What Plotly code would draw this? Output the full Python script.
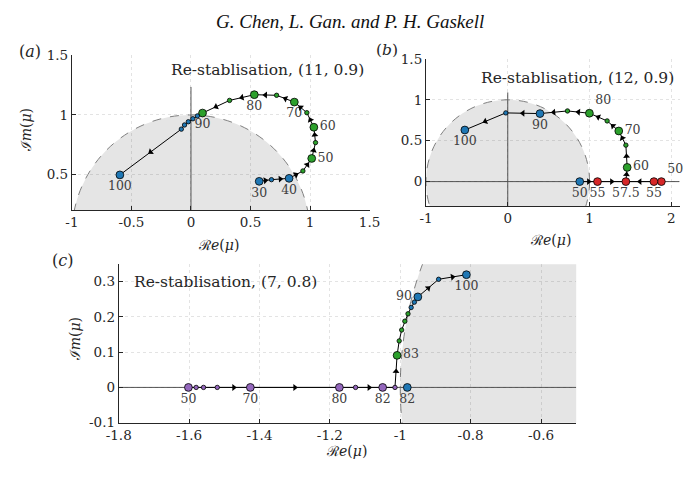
import numpy as np
import plotly.graph_objects as go

# ---------------- data ----------------
# (a) Re-stablisation, (11, 0.9)
a_re = [0.573, 0.676, 0.824, 0.940, 1.014, 1.046, 1.032, 0.973, 0.868, 0.719,
        0.532, 0.324, 0.097, 0.054, 0.016, -0.022, -0.054, -0.081, -0.597]
a_im = [0.443, 0.457, 0.468, 0.530, 0.635, 0.768, 0.897, 1.019, 1.108, 1.165,
        1.170, 1.122, 1.016, 0.992, 0.968, 0.943, 0.916, 0.881, 0.497]
a_branch = ['blue', 'blue', 'blue', 'green', 'green', 'green', 'green', 'green', 'green', 'green',
            'green', 'green', 'green', 'blue', 'blue', 'blue', 'blue', 'blue', 'blue']
a_label = ['30', '', '40', '', '50', '', '60', '', '70', '',
           '80', '', '90', '', '', '', '', '', '100']

# (b) Re-stablisation, (12, 0.9)
b1_re = [0.880, 1.097, 1.444]
b1_im = [0.0, 0.0, 0.0]
b1_branch = ['blue', 'red', 'red']
b1_label = ['50', '55', '']

b2_re = [1.878, 1.787, 1.444]
b2_im = [0.0, 0.0, 0.0]
b2_branch = ['red', 'red', 'red']
b2_label = ['50', '55', '']

b3_re = [1.444, 1.460, 1.444, 1.357, 1.215, 0.998, 0.730, 0.394, -0.024, -0.525]
b3_im = [0.0, 0.174, 0.446, 0.619, 0.742, 0.836, 0.864, 0.832, 0.840, 0.631]
b3_branch = ['red', 'green', 'green', 'green', 'green', 'green', 'green', 'blue', 'blue', 'blue']
b3_label = ['57.5', '60', '', '70', '', '80', '', '90', '', '100']

# (c) Re-stablisation, (7, 0.8)
c1_re = [-1.602, -1.580, -1.559, -1.520, -1.426, -1.173, -1.127, -1.050, -1.015,
         -1.009, -1.003, -0.996, -0.987, -0.978, -0.969, -0.960, -0.950, -0.891, -0.812]
c1_im = [0.0, 0.0, 0.0, 0.0, 0.0, 0.0, 0.0, 0.0, 0.0,
         0.091, 0.132, 0.163, 0.188, 0.209, 0.227, 0.242, 0.257, 0.307, 0.320]
c1_branch = ['purple'] * 9 + ['green'] * 5 + ['blue'] * 5
c1_label = ['50', '', '', '', '70', '80', '', '82', '',
            '83', '', '', '', '', '', '', '90', '', '100']

c2_re = [-0.980]
c2_im = [0.0]
c2_branch = ['blue']
c2_label = ['82']

x_ticks_a = [-1, -0.5, 0, 0.5, 1, 1.5]
y_ticks_a = [0.5, 1, 1.5]
x_ticks_b = [-1, 0, 1, 2]
y_ticks_b = [0, 0.5, 1, 1.5]
x_ticks_c = [-1.8, -1.6, -1.4, -1.2, -1.0, -0.8, -0.6]
y_ticks_c = [-0.1, 0, 0.1, 0.2, 0.3]

# ---------------- style ----------------
COL = {'blue': '#1f77b4', 'green': '#2ca02c', 'red': '#d62728', 'purple': '#9467bd'}
SERIF = 'DejaVu Serif, Liberation Serif, serif'
TIMES = 'Liberation Serif, Times New Roman, serif'
W, H = 697, 478

fig = go.Figure()


def tp(labels, special):
    return [special.get(i, 'bottom center') for i in range(len(labels))]


def add_path(re, im, branch, labels, textpos, xa, ya, line=True):
    fig.add_trace(go.Scatter(
        x=re, y=im, xaxis=xa, yaxis=ya,
        mode=('lines+' if line else '') + 'markers+text',
        line=dict(color='black', width=1),
        marker=dict(color=[COL[b] for b in branch], opacity=1,
                    size=[7.8 if l else 4.4 for l in labels],
                    line=dict(color='black', width=0.8)),
        text=labels, textposition=textpos,
        textfont=dict(family=SERIF, size=12.5, color='#404040'),
        showlegend=False, hoverinfo='skip', cliponaxis=False))


def add_arrows(re, im, xa, ya, px_per_unit, min_px):
    re = np.asarray(re, float)
    im = np.asarray(im, float)
    dx, dy = np.diff(re), np.diff(im)
    keep = np.hypot(dx, dy) * px_per_unit > min_px
    mx = (re[:-1] + re[1:]) / 2
    my = (im[:-1] + im[1:]) / 2
    ang = np.degrees(np.arctan2(dx, dy))
    fig.add_trace(go.Scatter(
        x=mx[keep], y=my[keep], xaxis=xa, yaxis=ya, mode='markers',
        marker=dict(symbol='triangle-up', size=6, color='black', angle=ang[keep],
                    opacity=1, line=dict(width=0)),
        showlegend=False, hoverinfo='skip'))


# panel (a)
add_path(a_re, a_im, a_branch, a_label, tp(a_label, {4: 'middle right', 6: 'middle right'}), 'x', 'y')
add_arrows(a_re, a_im, 'x', 'y', 123.3, 10)

# panel (b)
add_path(b1_re, b1_im, b1_branch, b1_label, tp(b1_label, {}), 'x2', 'y2')
add_path(b2_re, b2_im, b2_branch, b2_label, tp(b2_label, {0: 'top right'}), 'x2', 'y2')
add_path(b3_re, b3_im, b3_branch, b3_label,
         tp(b3_label, {1: 'middle right', 3: 'middle right', 5: 'top right'}), 'x2', 'y2')
for r, i in ((b1_re, b1_im), (b2_re, b2_im), (b3_re, b3_im)):
    add_arrows(r, i, 'x2', 'y2', 84.7, 10)

# panel (c)
add_path(c1_re, c1_im, c1_branch, c1_label, tp(c1_label, {9: 'middle right', 16: 'middle left'}), 'x3', 'y3')
add_path(c2_re, c2_im, c2_branch, c2_label, tp(c2_label, {}), 'x3', 'y3', line=False)
add_arrows(c1_re, c1_im, 'x3', 'y3', 364.4, 18)


# ---------------- axes ----------------
def ax(domain, rng, ticks, anchor):
    return dict(domain=domain, range=rng, anchor=anchor,
                tickvals=ticks, ticktext=['%g' % t for t in ticks],
                showline=True, linecolor='#262626', linewidth=1,
                ticks='inside', ticklen=4, tickcolor='#262626', tickwidth=1,
                showgrid=True, gridcolor='rgba(38,38,38,0.13)', griddash='dot', gridwidth=1,
                zeroline=False, mirror=False,
                tickfont=dict(family=SERIF, size=13.5, color='#262626'))


fig.update_layout(
    xaxis=ax([61 / W, 369.3 / W], [-1, 1.5], x_ticks_a, 'y'),
    yaxis=ax([1 - 209.3 / H, 1 - 49 / H], [0.2, 1.5], y_ticks_a, 'x'),
    xaxis2=ax([427.7 / W, 690.3 / W], [-1, 2.1], x_ticks_b, 'y2'),
    yaxis2=ax([1 - 205 / H, 1 - 52.7 / H], [-0.3, 1.5], y_ticks_b, 'x2'),
    xaxis3=ax([109.5 / W, 583.3 / W], [-1.8, -0.5], x_ticks_c, 'y3'),
    yaxis3=ax([1 - 429 / H, 1 - 265 / H], [-0.1, 0.35], y_ticks_c, 'x3'),
)

# ---------------- shapes: unit disc and reference lines ----------------
shapes = []
for xa, ya in (('x', 'y'), ('x2', 'y2'), ('x3', 'y3')):
    shapes.append(dict(type='circle', xref=xa, yref=ya, x0=-1, x1=1, y0=-1, y1=1,
                       fillcolor='#e5e5e5', line=dict(color='#7f7f7f', width=1, dash='dash'),
                       layer='below'))
ref = dict(color='#555555', width=1)
shapes += [
    dict(type='line', xref='x', yref='y', x0=0, x1=0, y0=0.2, y1=1.235, line=ref, layer='below'),
    dict(type='line', xref='x2', yref='y2', x0=0, x1=0, y0=-0.3, y1=1.09, line=ref, layer='below'),
    dict(type='line', xref='x2', yref='y2', x0=-1, x1=2.1, y0=0, y1=0, line=ref, layer='below'),
    dict(type='line', xref='x3', yref='y3', x0=-1.8, x1=-0.5, y0=0, y1=0, line=ref, layer='below'),
]


# ---------------- annotations ----------------
def ann(text, x, y, size, family=SERIF, xanchor='center', angle=0, color='#262626'):
    return dict(text=text, x=x / W, y=1 - y / H, xref='paper', yref='paper',
                xanchor=xanchor, yanchor='middle', showarrow=False, textangle=angle,
                font=dict(family=family, size=size, color=color))


anns = [
    ann('<i>G. Chen, L. Gan. and P. H. Gaskell</i>', 349, 14, 19, family=TIMES, color='#111111'),
    ann('(<i>a</i>)', 17.5, 45, 16),
    ann('(<i>b</i>)', 387, 43, 15.5),
    ann('(<i>c</i>)', 51, 261, 16),
    ann('Re-stablisation, (11, 0.9)', 366, 64, 15.5, xanchor='right'),
    ann('Re-stablisation, (12, 0.9)', 687, 72, 15.5, xanchor='right'),
    ann('Re-stablisation, (7, 0.8)', 123, 283, 15.5, xanchor='left'),
    ann('ℛ<i>e</i>(<i>μ</i>)', 213, 245, 14),
    ann('ℛ<i>e</i>(<i>μ</i>)', 557, 240, 14),
    ann('ℛ<i>e</i>(<i>μ</i>)', 345, 458, 14),
    ann('ℐ<i>m</i>(<i>μ</i>)', 13, 127, 14, angle=-90),
    ann('ℐ<i>m</i>(<i>μ</i>)', 64, 343, 14, angle=-90),
]

fig.update_layout(
    width=W, height=H, margin=dict(l=0, r=0, t=0, b=0),
    paper_bgcolor='white', plot_bgcolor='white',
    shapes=shapes, annotations=anns, hovermode=False, showlegend=False,
)

fig.write_html('out.html')
